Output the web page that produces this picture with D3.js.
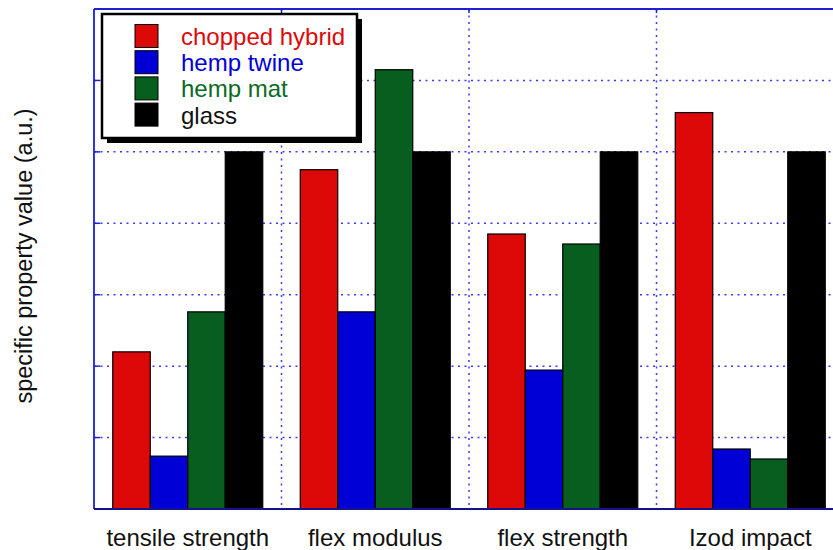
<!DOCTYPE html>
<html>
<head>
<meta charset="utf-8">
<script src="https://cdn.jsdelivr.net/npm/d3@7"></script>
<style>
  body { margin: 0; background: #fff; }
  svg { display: block; font-family: "Liberation Sans", Arial, Helvetica, sans-serif; }
</style>
</head>
<body>
<svg id="chart" width="833" height="550"></svg>
<script>
// Property categories and material series (values normalised to glass = 1)
const categories = ["tensile strength", "flex modulus", "flex strength", "Izod impact"];
const seriesNames = ["chopped hybrid", "hemp twine", "hemp mat", "glass"];
const seriesColors = ["#dd0808", "#0000d6", "#075e1f", "#000000"];
const choppedHybrid = [0.44, 0.95, 0.77, 1.11];
const hempTwine = [0.148, 0.552, 0.389, 0.168];
const hempMat = [0.552, 1.23, 0.742, 0.14];
const glass = [1.0, 1.0, 1.0, 1.0];
const yTicks = [0, 0.2, 0.4, 0.6, 0.8, 1.0, 1.2, 1.4];

const seriesValues = [choppedHybrid, hempTwine, hempMat, glass];

const svg = d3.select("#chart");
const plot = { left: 94, right: 844, top: 9, bottom: 509 };

const x0 = d3.scaleBand().domain(categories).range([plot.left, plot.right]).padding(0);
const x1 = d3.scaleBand().domain(seriesNames)
  .range([x0.bandwidth() * 0.1, x0.bandwidth() * 0.9]).padding(0);
const y = d3.scaleLinear().domain([0, 1.4]).range([plot.bottom, plot.top]);

const gridColor = "#3a3aff";

// Horizontal grid lines
svg.append("g").selectAll("line").data(yTicks.slice(1, -1)).join("line")
  .attr("x1", plot.left).attr("x2", plot.right)
  .attr("y1", d => y(d)).attr("y2", d => y(d))
  .attr("stroke", gridColor).attr("stroke-width", 1.5)
  .attr("stroke-dasharray", "2,4.5");

// Vertical grid lines between categories
const bounds = categories.slice(1).map(c => x0(c));
svg.append("g").selectAll("line").data(bounds).join("line")
  .attr("x1", d => d).attr("x2", d => d)
  .attr("y1", plot.top).attr("y2", plot.bottom)
  .attr("stroke", gridColor).attr("stroke-width", 1.5)
  .attr("stroke-dasharray", "2,4.5");

// Bars
const groups = svg.append("g").selectAll("g").data(categories).join("g")
  .attr("transform", c => `translate(${x0(c)},0)`);
groups.selectAll("rect")
  .data((c, i) => seriesNames.map((s, k) => ({ s, k, v: seriesValues[k][i] })))
  .join("rect")
  .attr("x", d => x1(d.s))
  .attr("width", x1.bandwidth())
  .attr("y", d => y(d.v))
  .attr("height", d => y(0) - y(d.v))
  .attr("fill", d => seriesColors[d.k])
  .attr("stroke", "#000").attr("stroke-width", 1.2);

// Frame: left and top axes, bottom axis
const axisColor = "#1f1fd8";
const frame = svg.append("g");
frame.append("line").attr("x1", plot.left).attr("x2", plot.left)
  .attr("y1", plot.top).attr("y2", plot.bottom)
  .attr("stroke", axisColor).attr("stroke-width", 1.8);
frame.append("line").attr("x1", plot.left).attr("x2", plot.right)
  .attr("y1", plot.top).attr("y2", plot.top)
  .attr("stroke", axisColor).attr("stroke-width", 1.8);
frame.append("line").attr("x1", plot.left).attr("x2", plot.right)
  .attr("y1", plot.bottom).attr("y2", plot.bottom)
  .attr("stroke", "#14148a").attr("stroke-width", 2.2);

// Inward tick marks on left axis
frame.append("g").selectAll("line").data(yTicks.slice(1, -1)).join("line")
  .attr("x1", plot.left).attr("x2", plot.left + 6)
  .attr("y1", d => y(d)).attr("y2", d => y(d))
  .attr("stroke", axisColor).attr("stroke-width", 1.5);
// Tick marks on top axis at category boundaries
frame.append("g").selectAll("line").data(bounds).join("line")
  .attr("x1", d => d).attr("x2", d => d)
  .attr("y1", plot.top).attr("y2", plot.top + 4)
  .attr("stroke", axisColor).attr("stroke-width", 1.5);

// Category labels
const xAxis = d3.axisBottom(x0).tickSize(0).tickPadding(0);
const xg = svg.append("g").attr("transform", `translate(0,${plot.bottom})`).call(xAxis);
xg.select(".domain").remove();
xg.selectAll("text")
  .attr("dy", null).attr("y", 37)
  .attr("font-size", 24).attr("fill", "#111")
  .attr("font-family", "Liberation Sans, Arial, sans-serif");

// Y axis title
svg.append("text")
  .attr("transform", `translate(32,${(plot.top + plot.bottom) / 2 - 3}) rotate(-90)`)
  .attr("text-anchor", "middle")
  .attr("font-size", 23.5).attr("fill", "#111")
  .text("specific property value (a.u.)");

// Legend with drop shadow
const legend = svg.append("g");
const lx = 102, ly = 14, lw = 255, lh = 124, sh = 5;
legend.append("rect").attr("x", lx + sh).attr("y", ly + sh)
  .attr("width", lw).attr("height", lh).attr("fill", "#000");
legend.append("rect").attr("x", lx).attr("y", ly)
  .attr("width", lw).attr("height", lh)
  .attr("fill", "#fff").attr("stroke", "#000").attr("stroke-width", 2.5);
const items = legend.selectAll("g.item").data(seriesNames).join("g")
  .attr("class", "item")
  .attr("transform", (d, i) => `translate(0,${24.5 + i * 26.2})`);
items.append("rect").attr("x", 135).attr("y", 0)
  .attr("width", 23).attr("height", 23)
  .attr("fill", (d, i) => seriesColors[i])
  .attr("stroke", "#000").attr("stroke-width", 1);
items.append("text").attr("x", 181).attr("y", 20.5)
  .attr("font-size", 24)
  .attr("fill", (d, i) => seriesColors[i] === "#075e1f" ? "#0c6a24" : (i === 3 ? "#111" : seriesColors[i]))
  .text(d => d);
</script>
</body>
</html>
